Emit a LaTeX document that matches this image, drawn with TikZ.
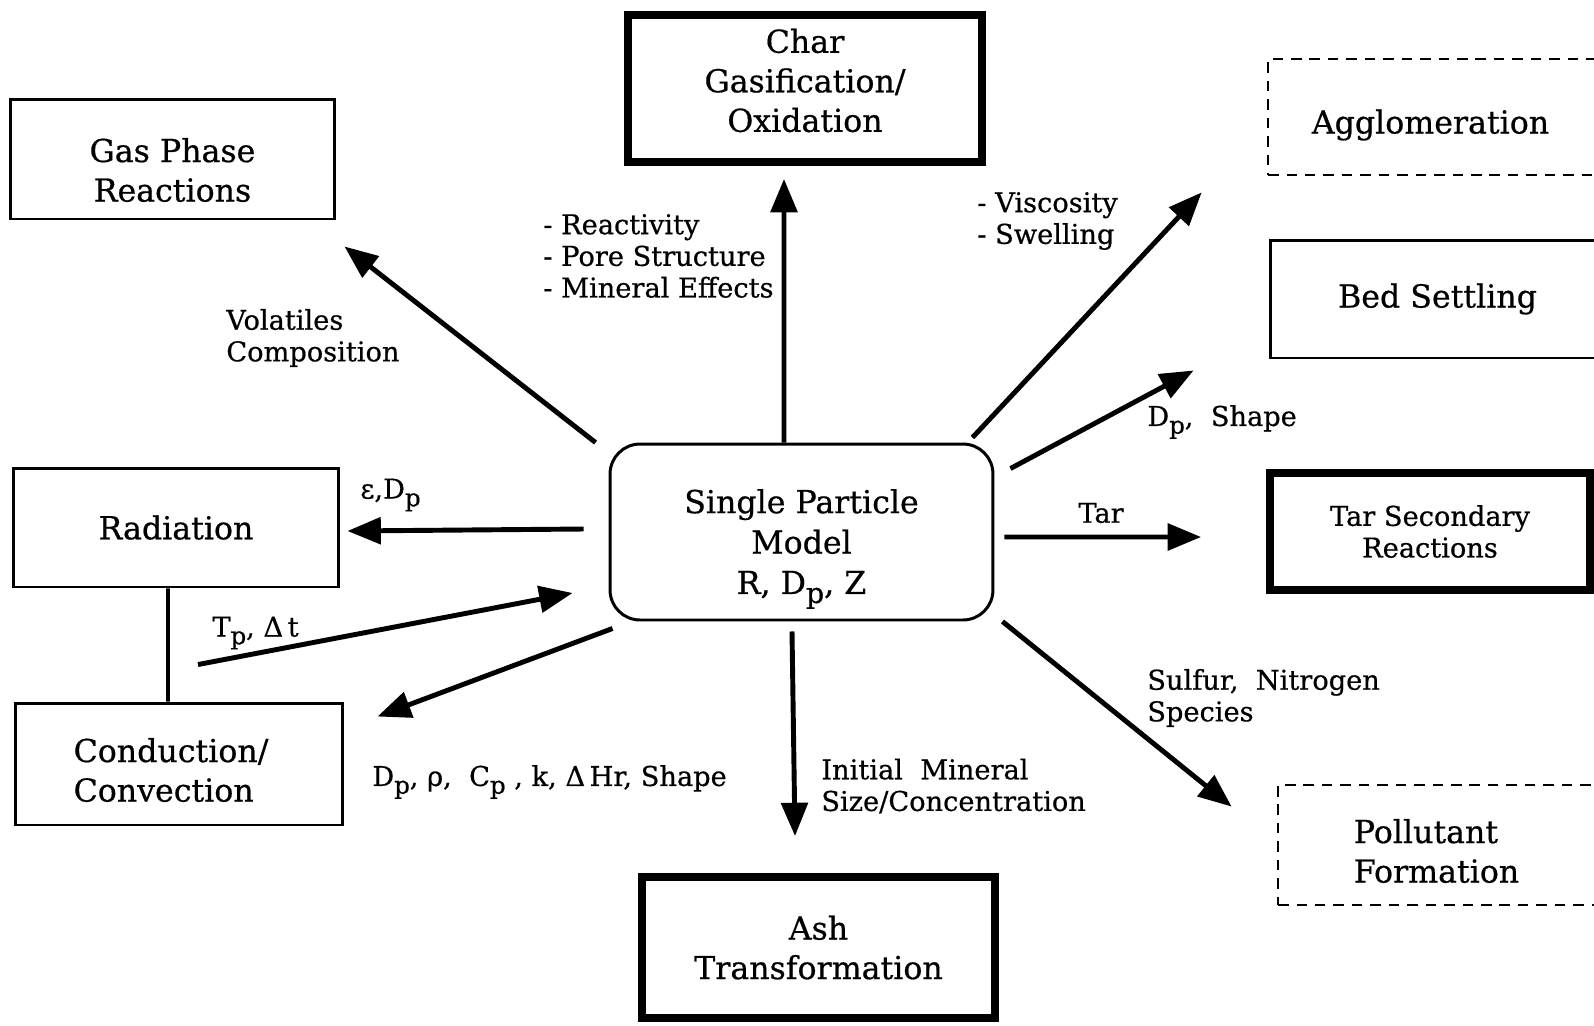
\documentclass[tikz,border=0pt]{standalone}
\usepackage{fontspec}
\setmainfont{DejaVu Serif}[FakeBold=0.6]
\usetikzlibrary{arrows.meta}

% lowered subscript as set in the labels (D_p, T_p, C_p)
\newcommand{\lo}[1]{\raisebox{-0.55ex}{\scalebox{0.9}{#1}}}

\begin{document}
\begin{tikzpicture}[x=0.02cm,y=-0.02cm,
    box/.style={draw, line width=1.7pt, inner sep=0pt, align=center, font=\fontsize{18}{22.5}\selectfont},
    thickbox/.style={box, line width=4.5pt},
    dashbox/.style={box, line width=1.6pt, dash pattern=on 6pt off 4.5pt},
    boxtext/.style={align=center, inner sep=0pt, font=\fontsize{18}{22.5}\selectfont},
    lbl/.style={align=left, inner sep=0pt, font=\fontsize{15.5}{18}\selectfont},
    flow/.style={line width=2.8pt, -{Triangle[length=19pt,width=15pt]}}]

    \useasboundingbox (0,0) rectangle (1594,1025);
    \clip (0,0) rectangle (1594,1025);

    % the model in the middle
    \node[box, minimum width=7.66cm, minimum height=3.52cm, rounded corners=0.6cm] (model) at (801.5,532) {};
    \node[boxtext, font=\fontsize{18}{23}\selectfont] (modeltext) at ([yshift=-0.34cm]model.center)
        {Single Particle\\Model\\R, D\lo{p}, Z};

    % left column
    \node[box, minimum width=6.5cm, minimum height=2.4cm] (gas) at (172.5,159) {};
    \node[boxtext] (gastext) at ([yshift=-0.22cm]gas.center) {Gas Phase\\Reactions};
    \node[box, minimum width=6.52cm, minimum height=2.38cm] (rad) at (176,527.5) {Radiation};
    \node[box, minimum width=6.56cm, minimum height=2.44cm] (cond) at (179,764) {};
    \node[boxtext, align=left] (condtext) at ([xshift=-0.16cm,yshift=-0.12cm]cond.center) {Conduction/\\Convection};

    % top and bottom
    \node[thickbox, minimum width=7.08cm, minimum height=2.94cm] (char) at (805,88.5) {};
    \node[boxtext] (chartext) at ([yshift=0.16cm]char.center) {Char\\Gasification/\\Oxidation};
    \node[thickbox, minimum width=7.06cm, minimum height=2.82cm] (ash) at (818.5,947.5) {Ash\\Transformation};

    % right column, running off the page
    \node[dashbox, minimum width=6.74cm, minimum height=2.32cm] (aggl) at (1436.5,117) {};
    \node[boxtext] (aggltext) at ([xshift=-0.12cm,yshift=-0.16cm]aggl.center) {Agglomeration};
    \node[box, minimum width=6.7cm, minimum height=2.36cm] (bed) at (1437.5,299) {Bed Settling};
    \node[thickbox, minimum width=6.4cm, minimum height=2.34cm,
          font=\fontsize{15.5}{18}\selectfont] (tar) at (1430,531.5) {Tar Secondary\\Reactions};
    \node[dashbox, minimum width=6.54cm, minimum height=2.4cm] (poll) at (1441.5,845) {};
    \node[boxtext, align=left] (polltext) at ([xshift=-0.1cm,yshift=-0.12cm]poll.center) {Pollutant\\Formation};

    % arrows out of the model
    \draw[flow] ([xshift=-0.35cm]model.north) -- ([xshift=-0.42cm,yshift=-0.26cm]char.south);
    \draw[flow] ([xshift=-0.26cm]model.north west) -- ([xshift=0.16cm,yshift=-0.52cm]gas.south east);
    \draw[flow] ([xshift=-0.44cm,yshift=0.1cm]model.north east) -- ([xshift=-1.3cm,yshift=-0.32cm]aggl.south west);
    \draw[flow] ([xshift=0.32cm,yshift=-0.52cm]model.north east) -- ([xshift=-1.5cm,yshift=-0.22cm]bed.south west);
    \draw[flow] ([xshift=0.2cm,yshift=-0.1cm]model.east) -- ([xshift=-1.3cm,yshift=-0.11cm]tar.west);
    \draw[flow] ([xshift=0.16cm]model.south east) -- ([xshift=-0.9cm,yshift=-0.46cm]poll.north west);
    \draw[flow] ([xshift=-0.19cm,yshift=-0.2cm]model.south) -- ([xshift=-0.47cm,yshift=0.74cm]ash.north);
    \draw[flow] ([xshift=0.08cm,yshift=-0.14cm]model.south west) -- ([xshift=0.66cm,yshift=-0.3cm]cond.north east);
    \draw[flow] ([xshift=-0.5cm,yshift=0.06cm]model.west) -- ([xshift=0.14cm,yshift=-0.07cm]rad.east);

    % heat transfer back into the model
    \draw[line width=2.2pt] ([xshift=-0.16cm]rad.south) -- ([xshift=-0.22cm]cond.north);
    \draw[flow] ([xshift=0.38cm,yshift=0.74cm]cond.north) -- ([xshift=-0.72cm,yshift=-1.22cm]model.west);

    % labels
    \node[lbl, anchor=west] (charlbl) at (543,256) {- Reactivity\\- Pore Structure\\- Mineral Effects};
    \node[lbl, anchor=west] (gaslbl) at (226,338) {Volatiles\\Composition};
    \node[lbl, anchor=west] (aggllbl) at (977,221) {- Viscosity\\- Swelling};
    \node[lbl, anchor=west] (bedlbl) at (1147,422) {D\lo{p}, \ Shape};
    \node[lbl] (tarlbl) at (1101,513) {Tar};
    \node[lbl, anchor=west] (polllbl) at (1147,698) {Sulfur, \ Nitrogen\\Species};
    \node[lbl, anchor=west] (ashlbl) at (821,786) {Initial \ Mineral\\Size/Concentration};
    \node[lbl, anchor=west] (condlbl) at (372,782) {D\lo{p}, ρ, \ C\lo{p} , k, Δ\,Hr, Shape};
    \node[lbl, anchor=west] (tplbl) at (212,633) {T\lo{p}, Δ\,t};
    \node[lbl, anchor=west] (radlbl) at (360,495) {ε,D\lo{p}};

\end{tikzpicture}
\end{document}
